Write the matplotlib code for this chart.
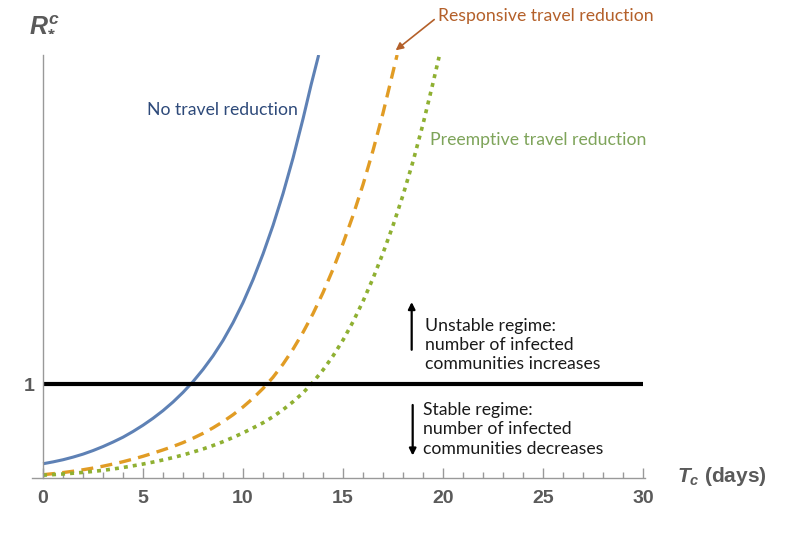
import numpy as np
import matplotlib
matplotlib.use("Agg")
import matplotlib.pyplot as plt
from matplotlib.ticker import MultipleLocator

# values
t_none = [0, 0.5, 1, 1.5, 2, 2.5, 3, 3.5, 4, 4.5, 5, 5.5, 6, 6.5, 7, 7.5, 8, 8.5, 9,
          9.5, 10, 10.5, 11, 11.5, 12, 12.5, 13, 13.4, 13.78]
r_none = [0.152, 0.172, 0.195, 0.223, 0.255, 0.293, 0.336, 0.384, 0.436, 0.497, 0.564,
          0.638, 0.72, 0.812, 0.915, 1.03, 1.16, 1.305, 1.47, 1.66, 1.875, 2.12, 2.395,
          2.70, 3.04, 3.42, 3.84, 4.20, 4.52]

t_resp = [0, 0.5, 1, 1.5, 2, 2.5, 3, 3.5, 4, 4.5, 5, 5.5, 6, 6.5, 7, 7.5, 8, 8.5, 9,
          9.5, 10, 10.5, 11, 11.5, 12, 12.5, 13, 13.5, 14, 14.5, 15, 15.5, 16, 16.5,
          17, 17.5, 17.7]
r_resp = [0.035, 0.046, 0.058, 0.072, 0.088, 0.106, 0.126, 0.149, 0.174, 0.202, 0.232,
          0.265, 0.30, 0.337, 0.378, 0.425, 0.477, 0.536, 0.602, 0.676, 0.759, 0.852,
          0.957, 1.077, 1.217, 1.377, 1.557, 1.757, 1.982, 2.232, 2.507, 2.807, 3.137,
          3.502, 3.902, 4.342, 4.52]

t_pre = [0, 0.5, 1, 1.5, 2, 2.5, 3, 3.5, 4, 4.5, 5, 5.5, 6, 6.5, 7, 7.5, 8, 8.5, 9,
         9.5, 10, 10.5, 11, 11.5, 12, 12.5, 13, 13.5, 14, 14.5, 15, 15.5, 16, 16.5,
         17, 17.5, 18, 18.5, 19, 19.5, 19.8]
r_pre = [0.03, 0.036, 0.043, 0.051, 0.06, 0.07, 0.082, 0.096, 0.112, 0.13, 0.149, 0.17,
         0.193, 0.218, 0.246, 0.277, 0.31, 0.347, 0.388, 0.433, 0.482, 0.535, 0.59,
         0.655, 0.73, 0.815, 0.91, 1.025, 1.155, 1.305, 1.475, 1.67, 1.89, 2.135, 2.405,
         2.70, 3.025, 3.385, 3.785, 4.225, 4.5]

threshold = 1
x_ticks = [0, 5, 10, 15, 20, 25, 30]

# colours
c_blue = '#5e81b5'
c_orange = '#e19c24'
c_green = '#8fb032'
c_axis = '#999999'
c_label = '#5a5a5a'

plt.rcParams['mathtext.fontset'] = 'custom'
plt.rcParams['mathtext.it'] = 'Liberation Sans:italic:bold'
plt.rcParams['mathtext.rm'] = 'Liberation Sans:bold'

fig = plt.figure(figsize=(7.85, 5.37), dpi=100)
ax = fig.add_axes([0.0408, 0.1099, 0.781, 0.7877])

ax.plot(t_none, r_none, color=c_blue, lw=2.2, solid_capstyle='butt')
ax.plot(t_resp, r_resp, color=c_orange, lw=2.4, linestyle=(0, (3.6, 2.2)))
ax.plot(t_pre, r_pre, color=c_green, lw=2.6, linestyle=(0, (1.1, 1.4)))
ax.hlines(threshold, 0, 30, color='black', lw=3)

ax.set_xlim(-0.55, 30.1)
ax.set_ylim(0, 4.52)

# Mathematica-like axes
ax.spines['top'].set_visible(False)
ax.spines['right'].set_visible(False)
ax.spines['left'].set_position(('data', 0))
for s in ['left', 'bottom']:
    ax.spines[s].set_color(c_axis)
    ax.spines[s].set_linewidth(1)

ax.set_xticks(x_ticks)
ax.xaxis.set_minor_locator(MultipleLocator(1))
ax.set_yticks([threshold])
ax.tick_params(axis='x', which='major', direction='in', length=7, width=1, color=c_axis,
               labelsize=14, labelcolor=c_label, pad=9)
ax.tick_params(axis='x', which='minor', direction='in', length=4, width=1, color=c_axis)
ax.tick_params(axis='y', which='major', direction='in', length=5, width=1, color=c_axis,
               labelsize=14, labelcolor=c_label, pad=6)
for lab in ax.get_xticklabels() + ax.get_yticklabels():
    lab.set_fontfamily('Liberation Sans')
    lab.set_fontweight('bold')

fig.text(0.037, 0.958, r'$R^{c}_{*}$', fontsize=18, color=c_label, ha='left', va='center')
fig.text(0.862, 0.112, r'$T_c$ (days)', fontsize=15, color=c_label, ha='left', va='center',
         family='Liberation Sans', weight='bold')

# curve labels
fs = 12.7
ax.text(5.18, 3.93, 'No travel reduction', color='#2e4a7a', fontsize=fs, family='Lato',
        ha='left', va='center')
ax.text(19.33, 3.61, 'Preemptive travel reduction', color='#7ea45a', fontsize=fs,
        family='Lato', ha='left', va='center')
ax.annotate('Responsive travel reduction', xy=(17.63, 4.57), xytext=(19.75, 4.94),
            color='#b4602a', fontsize=fs, family='Lato', ha='left', va='center',
            annotation_clip=False,
            arrowprops=dict(arrowstyle='-|>', color='#b4602a', lw=1.2, mutation_scale=11,
                            shrinkA=1, shrinkB=0, relpos=(0, 0.45)))

# regime annotations
ax.text(19.08, 1.42, 'Unstable regime:\nnumber of infected\ncommunities increases',
        color='#1a1a1a', fontsize=fs, family='Lato', ha='left', va='center',
        linespacing=1.25)
ax.text(18.98, 0.52, 'Stable regime:\nnumber of infected\ncommunities decreases',
        color='#1a1a1a', fontsize=fs, family='Lato', ha='left', va='center',
        linespacing=1.25)
ax.annotate('', xy=(18.43, 1.88), xytext=(18.43, 1.37),
            arrowprops=dict(arrowstyle='-|>', color='black', lw=1.6, mutation_scale=10,
                            shrinkA=0, shrinkB=0))
ax.annotate('', xy=(18.48, 0.24), xytext=(18.48, 0.78),
            arrowprops=dict(arrowstyle='-|>', color='black', lw=1.6, mutation_scale=10,
                            shrinkA=0, shrinkB=0))

fig.savefig('out.png', dpi=100)
